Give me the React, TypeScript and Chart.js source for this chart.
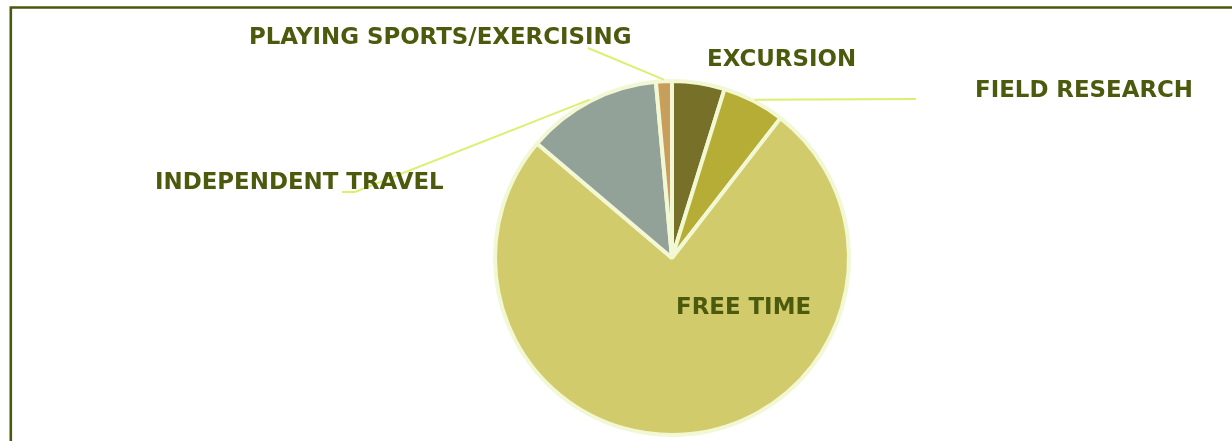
import React, { useEffect, useRef } from "react";
import { Chart, registerables } from "chart.js";

Chart.register(...registerables);

const categories = [
  "EXCURSION",
  "FIELD RESEARCH",
  "FREE TIME",
  "INDEPENDENT TRAVEL",
  "PLAYING SPORTS/EXERCISING",
];
const values = [4.8, 5.7, 75.7, 12.35, 1.45];
const sliceColors = ["#767028", "#b6ad36", "#d2cb6c", "#93a299", "#c89e5c"];

// label layout: text left x, baseline y, and leader line path (points after the arc anchor)
const labelLayout = [
  { x: 707, y: 66, leader: null as null | number[][] },
  { x: 975, y: 97, leader: [[916, 99]] },
  { x: 676, y: 314, leader: null },
  { x: 155, y: 189, leader: [[355, 192], [342, 192]] },
  { x: 249, y: 44, leader: [[588, 48]] },
];

const TEXT_COLOR = "#4b5a0c";
const LEADER_COLOR = "#ddef70";
const FRAME_COLOR = "#4a5a0c";
const FONT = "bold 22.9px 'DejaVu Sans'";

const labelPlugin = {
  id: "pieLabels",
  beforeDraw(chart: any) {
    const ctx = chart.ctx;
    ctx.save();
    ctx.strokeStyle = FRAME_COLOR;
    ctx.lineWidth = 2.6;
    ctx.beginPath();
    ctx.moveTo(10.8, 441);
    ctx.lineTo(10.8, 7.5);
    ctx.lineTo(1232, 7.5);
    ctx.stroke();
    ctx.restore();
  },
  afterDatasetsDraw(chart: any) {
    const ctx = chart.ctx;
    const meta = chart.getDatasetMeta(0);
    ctx.save();
    meta.data.forEach((arc: any, i: number) => {
      const lay = labelLayout[i];
      const { x, y, startAngle, endAngle, outerRadius } = arc.getProps(
        ["x", "y", "startAngle", "endAngle", "outerRadius"],
        true
      );
      const mid = (startAngle + endAngle) / 2;
      const ax = x + Math.cos(mid) * (outerRadius + 1.5);
      const ay = y + Math.sin(mid) * (outerRadius + 1.5);
      if (lay.leader) {
        ctx.strokeStyle = LEADER_COLOR;
        ctx.lineWidth = 2;
        ctx.beginPath();
        ctx.moveTo(ax, ay);
        lay.leader.forEach((p) => ctx.lineTo(p[0], p[1]));
        ctx.stroke();
      }
    });
    meta.data.forEach((arc: any, i: number) => {
      const lay = labelLayout[i];
      ctx.fillStyle = TEXT_COLOR;
      ctx.font = FONT;
      ctx.textAlign = "left";
      ctx.textBaseline = "alphabetic";
      ctx.fillText(categories[i], lay.x, lay.y);
    });
    ctx.restore();
  },
};

export default function App() {
  const ref = useRef<HTMLCanvasElement | null>(null);
  useEffect(() => {
    document.body.style.margin = "0";
    const canvas = ref.current!;
    const chart = new Chart(canvas, {
      type: "pie",
      data: {
        labels: categories,
        datasets: [
          {
            data: values,
            backgroundColor: sliceColors,
            borderColor: "#f3f8d4",
            borderWidth: 4,
          },
        ],
      },
      options: {
        animation: false,
        responsive: false,
        devicePixelRatio: 1,
        layout: { padding: { left: 493, right: 381, top: 79, bottom: 4 } },
        plugins: {
          legend: { display: false },
          tooltip: { enabled: false },
        },
      },
      plugins: [labelPlugin],
    });
    return () => chart.destroy();
  }, []);
  return (
    <div style={{ position: "absolute", left: 0, top: 0, width: 1232, height: 441, background: "#fff" }}>
      <canvas ref={ref} width={1232} height={441} style={{ width: 1232, height: 441, display: "block" }} />
    </div>
  );
}
